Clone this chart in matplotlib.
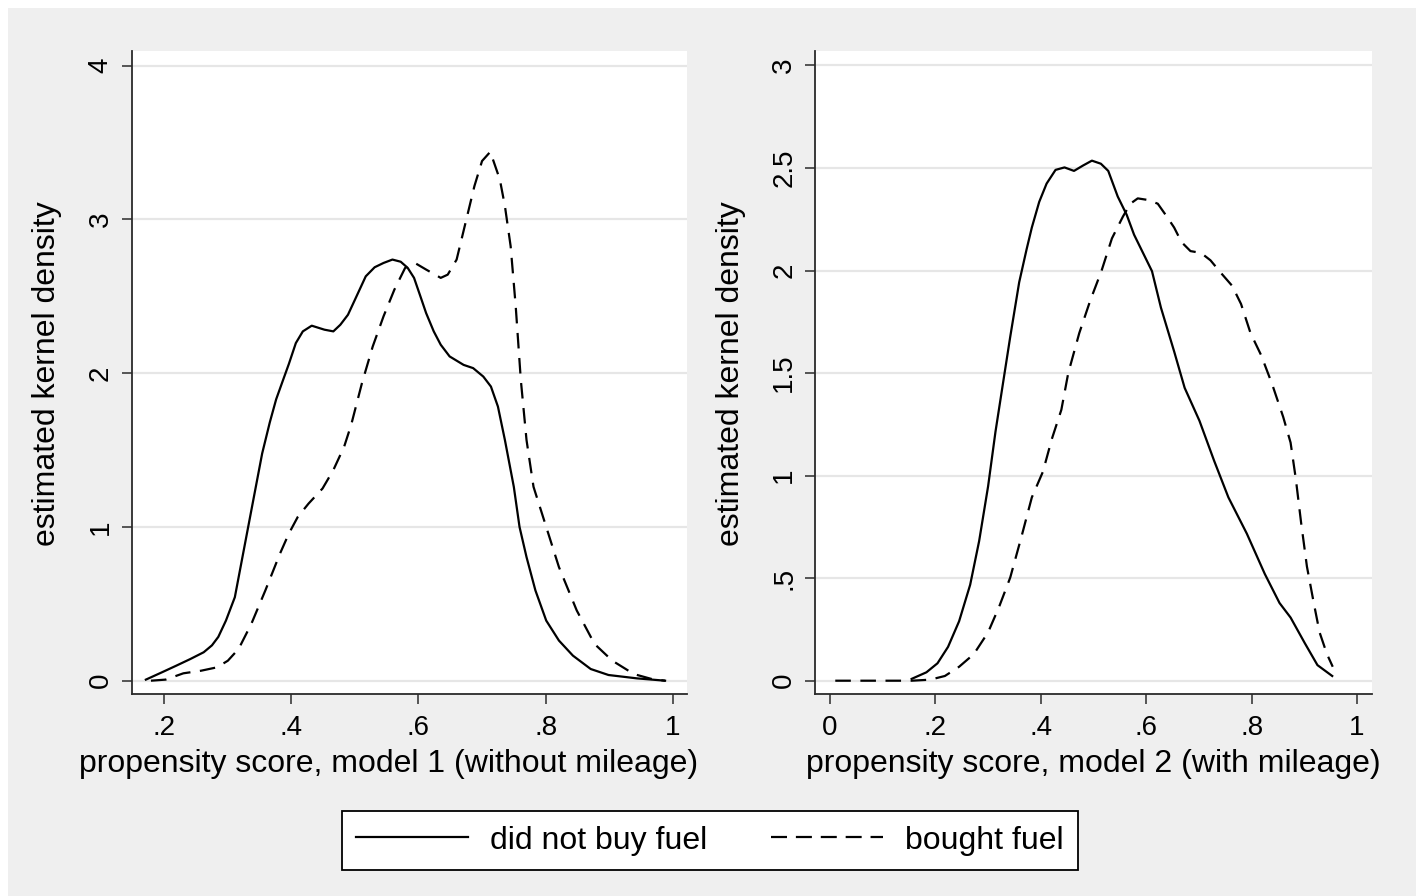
import matplotlib
matplotlib.use("Agg")
import matplotlib.pyplot as plt
from matplotlib.patches import Rectangle
from matplotlib.lines import Line2D

plt.rcParams['font.family'] = ['Liberation Sans', 'DejaVu Sans']

# ---- Data ----
# Model 1 (without mileage)
m1_nobuy_x = [0.171, 0.196, 0.219, 0.241, 0.262, 0.275, 0.285, 0.297, 0.311, 0.325, 0.340, 0.354, 0.366,
              0.376, 0.387, 0.396, 0.407, 0.418, 0.432, 0.452, 0.466, 0.477, 0.489, 0.500, 0.517, 0.531,
              0.545, 0.559, 0.572, 0.583, 0.593, 0.603, 0.612, 0.624, 0.635, 0.649, 0.671, 0.686, 0.702, 0.714,
              0.725, 0.736, 0.750, 0.759, 0.770, 0.784, 0.801, 0.821, 0.843, 0.871, 0.899, 0.944, 0.988]
m1_nobuy_y = [0.007, 0.054, 0.098, 0.141, 0.185, 0.23, 0.285, 0.391, 0.543, 0.848, 1.174, 1.478, 1.68,
              1.83, 1.957, 2.06, 2.196, 2.272, 2.309, 2.283, 2.272, 2.315, 2.380, 2.478, 2.630, 2.689,
              2.717, 2.739, 2.725, 2.685, 2.62, 2.50, 2.391, 2.272, 2.185, 2.109, 2.054, 2.033, 1.978, 1.913,
              1.783, 1.565, 1.261, 1.0, 0.804, 0.587, 0.391, 0.261, 0.163, 0.076, 0.037, 0.015, 0.0]

m1_bought_x = [0.179, 0.202, 0.230, 0.258, 0.283, 0.300, 0.317, 0.337, 0.359, 0.382, 0.396, 0.410, 0.427,
               0.449, 0.466, 0.483, 0.494, 0.511, 0.528, 0.545, 0.562, 0.579, 0.596, 0.612, 0.635, 0.646,
               0.660, 0.674, 0.688, 0.700, 0.713, 0.728, 0.736, 0.745, 0.753, 0.761, 0.770, 0.781, 0.801,
               0.821, 0.849, 0.877, 0.905, 0.939, 0.967, 0.988]
m1_bought_y = [0.0, 0.007, 0.048, 0.065, 0.087, 0.13, 0.207, 0.370, 0.587, 0.826, 0.957, 1.065, 1.152,
               1.25, 1.370, 1.522, 1.663, 1.935, 2.174, 2.370, 2.543, 2.685, 2.713, 2.674, 2.620, 2.641,
               2.739, 2.978, 3.217, 3.38, 3.44, 3.26, 3.087, 2.826, 2.435, 1.957, 1.565, 1.261, 1.0,
               0.739, 0.457, 0.239, 0.130, 0.043, 0.011, 0.0]

# Model 2 (with mileage)
m2_nobuy_x = [0.155, 0.183, 0.204, 0.224, 0.245, 0.266, 0.283, 0.300, 0.314, 0.328, 0.342, 0.359, 0.373,
              0.383, 0.397, 0.411, 0.428, 0.445, 0.463, 0.480, 0.497, 0.514, 0.528, 0.546, 0.563, 0.577,
              0.594, 0.611, 0.628, 0.653, 0.673, 0.701, 0.729, 0.756, 0.791, 0.825, 0.853, 0.874, 0.901,
              0.925, 0.953]
m2_nobuy_y = [0.009, 0.041, 0.085, 0.165, 0.290, 0.468, 0.681, 0.948, 1.214, 1.446, 1.677, 1.943, 2.103,
              2.210, 2.335, 2.424, 2.491, 2.503, 2.486, 2.512, 2.536, 2.521, 2.486, 2.361, 2.272, 2.175,
              2.086, 1.997, 1.819, 1.606, 1.428, 1.268, 1.072, 0.894, 0.717, 0.521, 0.379, 0.308, 0.183,
              0.076, 0.023]

m2_bought_x = [0.01, 0.08, 0.155, 0.19, 0.218, 0.245, 0.273, 0.300, 0.321, 0.342, 0.363, 0.383, 0.404,
               0.421, 0.439, 0.452, 0.473, 0.494, 0.515, 0.535, 0.556, 0.570, 0.584, 0.604, 0.622, 0.639,
               0.653, 0.667, 0.684, 0.704, 0.722, 0.742, 0.763, 0.780, 0.798, 0.818, 0.839, 0.860, 0.874,
               0.884, 0.894, 0.905, 0.918, 0.929, 0.943, 0.954]
m2_bought_y = [0.0, 0.0, 0.0, 0.005, 0.023, 0.068, 0.130, 0.236, 0.361, 0.503, 0.699, 0.894, 1.019,
               1.179, 1.321, 1.499, 1.695, 1.855, 1.997, 2.157, 2.264, 2.326, 2.352, 2.344, 2.326, 2.264,
               2.210, 2.139, 2.095, 2.086, 2.050, 1.988, 1.926, 1.837, 1.695, 1.588, 1.446, 1.286, 1.161,
               0.983, 0.770, 0.557, 0.379, 0.236, 0.130, 0.068]

left_xticks = [0.2, 0.4, 0.6, 0.8, 1.0]
left_xticklabels = ['.2', '.4', '.6', '.8', '1']
left_yticks = [0, 1, 2, 3, 4]
left_yticklabels = ['0', '1', '2', '3', '4']
right_xticks = [0, 0.2, 0.4, 0.6, 0.8, 1.0]
right_xticklabels = ['0', '.2', '.4', '.6', '.8', '1']
right_yticks = [0, 0.5, 1, 1.5, 2, 2.5, 3]
right_yticklabels = ['0', '.5', '1', '1.5', '2', '2.5', '3']

left_xlabel = 'propensity score, model 1 (without mileage)'
right_xlabel = 'propensity score, model 2 (with mileage)'
ylabel = 'estimated kernel density'
legend_labels = ['did not buy fuel', 'bought fuel']

# ---- Figure ----
W, H = 1416, 896
fig = plt.figure(figsize=(W / 100, H / 100), dpi=100, facecolor='white')
# gray graph region (white strip on top and left)
fig.patches.append(Rectangle((8 / W, 0), 1, 1 - 8 / H, transform=fig.transFigure,
                             facecolor='#efefef', edgecolor='none', zorder=-10))

GRID = '#e6e6e6'
SPINE = '#2a2a2a'
dash = (0, (7.0, 4.3))


def make_axes(x0, x1, y0, y1):
    return fig.add_axes([x0 / W, 1 - y1 / H, (x1 - x0) / W, (y1 - y0) / H])


def style(ax, xlim, ylim, xt, xtl, yt, ytl, xlabel, xlabel_x):
    ax.set_facecolor('white')
    ax.set_xlim(*xlim)
    ax.set_ylim(*ylim)
    for s in ['top', 'right']:
        ax.spines[s].set_visible(False)
    for s in ['left', 'bottom']:
        ax.spines[s].set_color(SPINE)
        ax.spines[s].set_linewidth(1.3)
    ax.set_xticks(xt)
    ax.set_xticklabels(xtl)
    ax.set_yticks(yt)
    ax.set_yticklabels(ytl, rotation=90, va='center')
    ax.tick_params(axis='both', direction='out', length=7, width=1.1, color=SPINE,
                   labelsize=20, labelcolor='black')
    ax.tick_params(axis='x', pad=8)
    ax.tick_params(axis='y', pad=6)
    ax.yaxis.grid(True, color=GRID, linewidth=1.6)
    ax.xaxis.grid(False)
    ax.set_axisbelow(True)
    ax.set_xlabel(xlabel, fontsize=23)
    ax.xaxis.set_label_coords(xlabel_x, -0.085)
    ax.set_ylabel(ylabel, fontsize=23)
    ax.yaxis.set_label_coords(-0.125, 0.498)


ax1 = make_axes(131.7, 687.3, 51, 694.3)
ax1.plot(m1_nobuy_x, m1_nobuy_y, color='black', linewidth=1.6, solid_joinstyle='round')
ax1.plot(m1_bought_x, m1_bought_y, color='black', linewidth=1.6, linestyle=dash)
style(ax1, (0.1487, 1.023), (-0.0885, 4.0956), left_xticks, left_xticklabels,
      left_yticks, left_yticklabels, left_xlabel, (389 - 131.7) / 555.6)

ax2 = make_axes(815.3, 1372, 51, 694.3)
ax2.plot(m2_nobuy_x, m2_nobuy_y, color='black', linewidth=1.6, solid_joinstyle='round')
ax2.plot(m2_bought_x, m2_bought_y, color='black', linewidth=1.6, linestyle=dash)
style(ax2, (-0.0279, 1.0285), (-0.0663, 3.0707), right_xticks, right_xticklabels,
      right_yticks, right_yticklabels, right_xlabel, 0.5)

# ---- Legend ----
handles = [Line2D([], [], color='black', linewidth=1.6),
           Line2D([], [], color='black', linewidth=1.6, linestyle=(0, (7.2, 4.0)))]
leg = fig.legend(handles, legend_labels, loc='center',
                 bbox_to_anchor=(710 / W, 1 - 840.5 / H), ncol=2, fontsize=23,
                 frameon=True, fancybox=False, edgecolor='black', facecolor='white',
                 framealpha=1, handlelength=3.5, handletextpad=0.7, columnspacing=2.0,
                 borderpad=0.45, borderaxespad=0)
leg.get_frame().set_linewidth(1.3)

fig.savefig('out.png', dpi=100, facecolor=fig.get_facecolor())
